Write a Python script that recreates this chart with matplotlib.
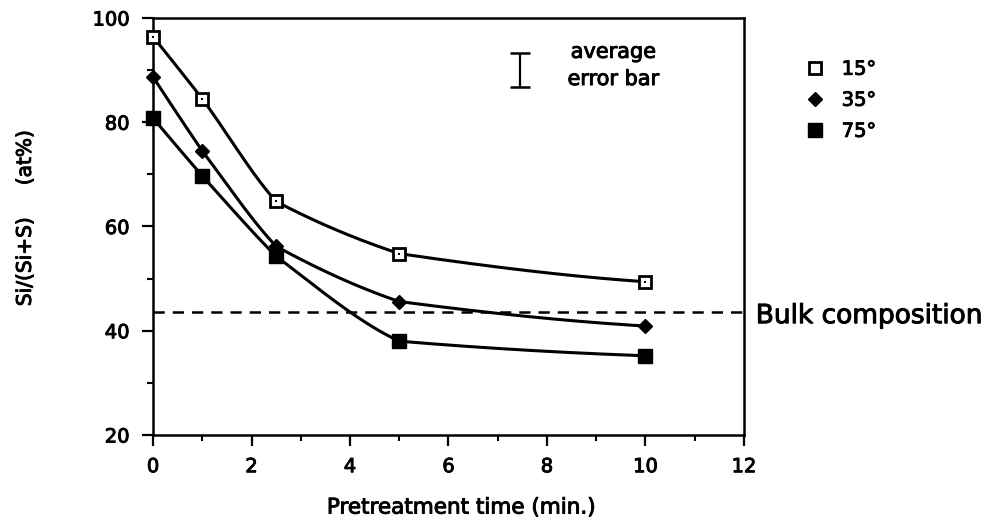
import numpy as np
import matplotlib
matplotlib.use("Agg")
import matplotlib.pyplot as plt
import matplotlib.patheffects as pe
from matplotlib.ticker import MultipleLocator

# Surface Si fraction vs. pretreatment time, at three take-off angles
time_min = [0, 1, 2.5, 5, 10]
si_15 = [96.4, 84.5, 64.8, 54.8, 49.4]
si_35 = [88.7, 74.5, 56.2, 45.6, 40.9]
si_75 = [80.8, 69.7, 54.3, 38.0, 35.2]
bulk_composition = 43.6

# Representative measurement uncertainty
avg_err_x = 7.45
avg_err_center = 90.0
avg_err_half = 3.25

plt.rcParams["font.family"] = ["DejaVu Sans"]
heavy = [pe.withStroke(linewidth=0.7, foreground="black")]


def pchip(x, y, xs):
    """Monotone cubic (Fritsch-Carlson) curve through the measured points."""
    x = np.asarray(x, float)
    y = np.asarray(y, float)
    h = np.diff(x)
    d = np.diff(y) / h
    n = len(x)
    m = np.zeros(n)
    for k in range(1, n - 1):
        if d[k - 1] * d[k] > 0:
            w1 = 2 * h[k] + h[k - 1]
            w2 = h[k] + 2 * h[k - 1]
            m[k] = (w1 + w2) / (w1 / d[k - 1] + w2 / d[k])
    m[0] = ((2 * h[0] + h[1]) * d[0] - h[0] * d[1]) / (h[0] + h[1])
    if np.sign(m[0]) != np.sign(d[0]):
        m[0] = 0
    m[-1] = ((2 * h[-1] + h[-2]) * d[-1] - h[-1] * d[-2]) / (h[-1] + h[-2])
    if np.sign(m[-1]) != np.sign(d[-1]):
        m[-1] = 0
    idx = np.clip(np.searchsorted(x, xs) - 1, 0, n - 2)
    t = (xs - x[idx]) / h[idx]
    h00 = 2 * t**3 - 3 * t**2 + 1
    h10 = t**3 - 2 * t**2 + t
    h01 = -2 * t**3 + 3 * t**2
    h11 = t**3 - t**2
    return (h00 * y[idx] + h10 * h[idx] * m[idx]
            + h01 * y[idx + 1] + h11 * h[idx] * m[idx + 1])


def smooth_curve(x, y, xs, k=0.4):
    """Lightly rounded polyline: a blend of straight segments and a spline."""
    return (1 - k) * np.interp(xs, x, y) + k * pchip(x, y, xs)


fig = plt.figure(figsize=(9.95, 5.31), dpi=100)
ax = fig.add_axes([0.1538, 0.1808, 0.5939, 0.7853])

xs = np.linspace(time_min[0], time_min[-1], 500)
lw = 2.2
for ys in (si_15, si_35, si_75):
    ax.plot(xs, smooth_curve(time_min, ys, xs), color="black", lw=lw,
            zorder=2, solid_capstyle="round")

ax.plot(time_min, si_15, ls="none", marker="s", ms=8.8, mfc="white",
        mec="black", mew=2.0, zorder=3, clip_on=False)
ax.plot(time_min, si_15, ls="none", marker="s", ms=1.6, mfc="black",
        mec="black", mew=0, zorder=4, clip_on=False)
ax.plot(time_min, si_35, ls="none", marker="D", ms=7.5, mfc="black",
        mec="black", zorder=3, clip_on=False)
ax.plot(time_min, si_75, ls="none", marker="s", ms=9.5, mfc="black",
        mec="black", zorder=3, clip_on=False)

ax.axhline(bulk_composition, color="black", lw=1.8, ls=(0, (4.5, 3.2)),
           zorder=1)
t_bulk = ax.text(12.24, bulk_composition - 0.8, "Bulk composition",
                 fontsize=19, va="center", ha="left", clip_on=False)

ax.errorbar([avg_err_x], [avg_err_center], yerr=[avg_err_half], fmt="none",
            ecolor="black", elinewidth=1.6, capsize=7, capthick=1.8)
t_err = ax.text(9.35, avg_err_center + 0.9, "average\nerror bar", fontsize=15,
                ha="center", va="center", linespacing=1.45)

ax.set_xlim(0, 12)
ax.set_ylim(20, 100)
ax.xaxis.set_major_locator(MultipleLocator(2))
ax.xaxis.set_minor_locator(MultipleLocator(1))
ax.yaxis.set_major_locator(MultipleLocator(20))
ax.yaxis.set_minor_locator(MultipleLocator(10))
ax.tick_params(which="major", direction="out", length=8, width=1.6,
               labelsize=14)
ax.tick_params(axis="x", which="major", pad=8)
ax.tick_params(axis="y", which="major", pad=9)
ax.tick_params(which="minor", direction="out", length=4.5, width=1.5)
for sp in ax.spines.values():
    sp.set_linewidth(1.8)

ax.set_xlabel("Pretreatment time (min.)", fontsize=15.5)
ax.xaxis.set_label_coords(0.522, -0.15)
ax.set_ylabel("Si/(Si+S)     (at%)", fontsize=14.5)
ax.yaxis.set_label_coords(-0.2, 0.52)

handles = [
    plt.Line2D([], [], ls="none", marker="s", ms=8.8, mfc="white",
               mec="black", mew=2.0),
    plt.Line2D([], [], ls="none", marker="D", ms=7.5, mfc="black",
               mec="black"),
    plt.Line2D([], [], ls="none", marker="s", ms=9.5, mfc="black",
               mec="black"),
]
leg = fig.legend(handles, ["15°", "35°", "75°"], loc="upper left",
                 bbox_to_anchor=(796 / 995, 1 - 50 / 531), frameon=False,
                 fontsize=14, handlelength=1.0, handletextpad=0.85,
                 labelspacing=0.62, borderpad=0)

texts = [t_bulk, t_err, ax.xaxis.label, ax.yaxis.label] + leg.get_texts()
texts += ax.get_xticklabels() + ax.get_yticklabels()
for t in texts:
    t.set_path_effects(heavy)

fig.savefig("out.png", dpi=100, facecolor="white")
